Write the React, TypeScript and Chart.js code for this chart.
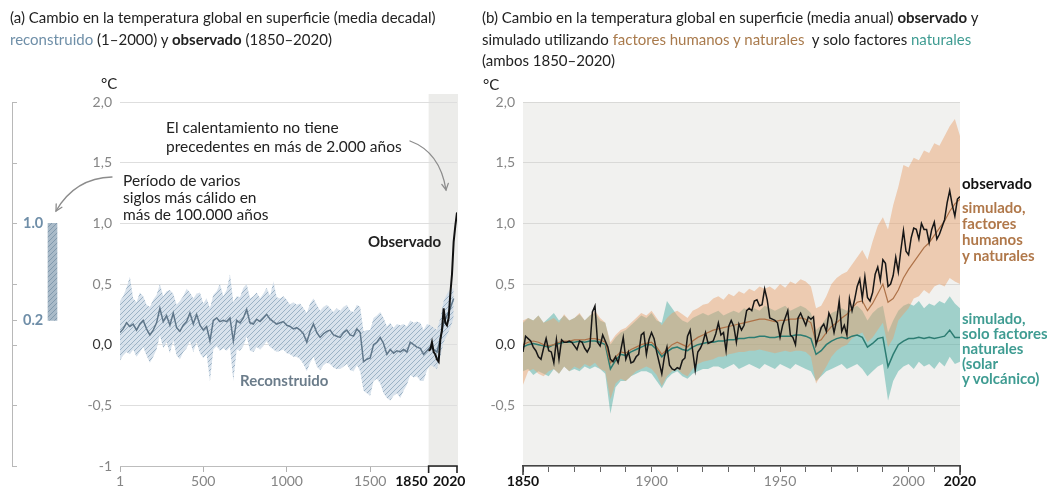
import React, { useEffect, useRef } from 'react';
import { Chart, registerables } from 'chart.js';

Chart.register(...registerables);

const FONT = 'Lato, "Open Sans", "DejaVu Sans", sans-serif';

// ---------- Panel (a): reconstructed (1-2000, 20-year steps) + observed decadal ----------
const RECON_START = 0;
const RECON_STEP = 20;
const RECON_MEDIAN = [
  0.10, 0.13, 0.18, 0.15, 0.17, 0.12, 0.17, 0.20, 0.13, 0.08,
  0.12, 0.18, 0.30, 0.19, 0.24, 0.16, 0.26, 0.14, 0.11, 0.16,
  0.19, 0.26, 0.17, 0.25, 0.16, 0.12, 0.15, 0.03, 0.20, 0.22,
  0.19, 0.20, 0.19, 0.22, 0.03, 0.20, 0.18, 0.22, 0.29, 0.18,
  0.17, 0.21, 0.19, 0.22, 0.25, 0.21, 0.19, 0.17, 0.18, 0.19,
  0.16, 0.15, 0.13, 0.14, 0.12, 0.09, 0.02, 0.11, 0.17, 0.10,
  0.06, 0.09, 0.11, 0.12, 0.08, 0.07, 0.06, 0.10, 0.12, 0.08,
  0.07, 0.13, 0.10, -0.14, -0.12, -0.11, 0.00, 0.02, 0.06, 0.01,
  -0.08, -0.04, -0.07, -0.05, -0.06, -0.04, -0.06, 0.02, 0.00, -0.02,
  -0.03, -0.08, -0.05, -0.02, -0.04, -0.06, 0.05, 0.18, 0.24, 0.30,
  0.38,
];
const RECON_HIGH = [
  0.36, 0.40, 0.47, 0.56, 0.38, 0.35, 0.43, 0.40, 0.33, 0.31,
  0.37, 0.41, 0.50, 0.40, 0.44, 0.45, 0.42, 0.33, 0.36, 0.40,
  0.46, 0.43, 0.38, 0.42, 0.43, 0.34, 0.38, 0.30, 0.41, 0.44,
  0.50, 0.40, 0.45, 0.58, 0.35, 0.40, 0.39, 0.47, 0.50, 0.38,
  0.40, 0.43, 0.38, 0.42, 0.47, 0.40, 0.52, 0.39, 0.38, 0.40,
  0.37, 0.33, 0.35, 0.33, 0.34, 0.30, 0.26, 0.34, 0.38, 0.33,
  0.28, 0.31, 0.33, 0.30, 0.27, 0.30, 0.28, 0.31, 0.33, 0.28,
  0.27, 0.33, 0.31, 0.11, 0.12, 0.12, 0.22, 0.24, 0.27, 0.22,
  0.15, 0.18, 0.14, 0.17, 0.16, 0.17, 0.15, 0.20, 0.18, 0.19,
  0.18, 0.12, 0.17, 0.16, 0.14, 0.12, 0.22, 0.36, 0.42, 0.45,
  0.47,
];
const RECON_LOW = [
  -0.13, -0.09, -0.06, -0.08, -0.04, -0.10, -0.06, -0.02, -0.09, -0.15,
  -0.10, -0.04, 0.08, -0.03, 0.02, -0.07, 0.04, -0.09, -0.12, -0.06,
  -0.03, 0.03, -0.06, 0.02, -0.07, -0.11, -0.08, -0.30, -0.04, -0.01,
  -0.05, -0.03, -0.05, -0.02, -0.30, -0.04, -0.05, -0.01, 0.07, -0.05,
  -0.06, -0.02, -0.04, -0.01, 0.03, -0.02, -0.04, -0.06, -0.05, -0.04,
  -0.07, -0.08, -0.10, -0.10, -0.12, -0.16, -0.22, -0.15, -0.10, -0.18,
  -0.21, -0.17, -0.15, -0.16, -0.19, -0.20, -0.20, -0.18, -0.16, -0.21,
  -0.22, -0.17, -0.22, -0.38, -0.40, -0.42, -0.30, -0.28, -0.32, -0.40,
  -0.44, -0.46, -0.42, -0.40, -0.44, -0.38, -0.33, -0.25, -0.27, -0.26,
  -0.30, -0.30, -0.21, -0.17, -0.18, -0.20, -0.10, 0.02, 0.08, 0.14,
  0.22,
];
const OBS_DECADAL_YEARS = [1850, 1860, 1870, 1880, 1890, 1900, 1910, 1920, 1930, 1940, 1950, 1960, 1970, 1980, 1990, 2000, 2010, 2020];
const OBS_DECADAL = [-0.05, -0.04, 0.02, -0.06, -0.08, -0.12, -0.14, 0.04, 0.12, 0.30, 0.18, 0.16, 0.22, 0.42, 0.58, 0.85, 0.98, 1.09];
const WARM_PERIOD = [0.2, 1.0];

// ---------- Panel (b): annual observed + simulated (2-year steps) ----------
const OBS_START = 1850;
const OBS_ANNUAL = [
  -0.06, 0.07, 0.05, 0.03, -0.02, -0.05, -0.10, -0.12, -0.03, 0.05,
  -0.05, -0.06, -0.15, 0.04, -0.12, 0.04, 0.02, 0.02, 0.03, 0.02,
  -0.01, -0.04, 0.03, 0.02, -0.03, -0.06, -0.02, 0.27, 0.32, 0.02,
  -0.01, 0.08, 0.03, -0.02, -0.12, -0.14, -0.10, -0.15, -0.05, 0.06,
  -0.12, -0.06, -0.15, -0.14, -0.10, -0.08, 0.08, 0.10, -0.08, 0.04,
  0.10, 0.05, -0.06, -0.15, -0.24, -0.10, -0.02, -0.17, -0.20, -0.21,
  -0.19, -0.20, -0.13, -0.11, 0.07, 0.12, -0.05, -0.21, -0.06, -0.03,
  0.02, 0.10, 0.01, 0.02, 0.03, 0.09, 0.18, 0.08, 0.10, -0.05,
  0.15, 0.20, 0.15, 0.02, 0.17, 0.12, 0.16, 0.28, 0.30, 0.28,
  0.36, 0.37, 0.32, 0.33, 0.46, 0.37, 0.22, 0.21, 0.20, 0.18,
  0.06, 0.16, 0.22, 0.28, 0.08, 0.06, 0.00, 0.22, 0.26, 0.21,
  0.16, 0.23, 0.21, 0.23, 0.00, 0.07, 0.14, 0.17, 0.11, 0.26,
  0.21, 0.10, 0.20, 0.36, 0.11, 0.16, 0.08, 0.38, 0.28, 0.37,
  0.48, 0.54, 0.38, 0.56, 0.39, 0.36, 0.43, 0.58, 0.64, 0.53,
  0.70, 0.67, 0.48, 0.50, 0.57, 0.72, 0.60, 0.78, 0.94, 0.77,
  0.74, 0.88, 0.96, 0.95, 0.87, 1.00, 0.95, 0.95, 0.84, 0.95,
  1.01, 0.87, 0.91, 0.97, 1.03, 1.17, 1.27, 1.15, 1.06, 1.20,
  1.22,
];
const SIM_START = 1850;
const SIM_STEP = 2;
const SIM_HN_MEAN = [
  0.00, 0.02, 0.03, 0.02, 0.00, -0.01, 0.00, 0.02, 0.03, 0.03,
  0.04, 0.04, 0.04, 0.05, 0.05, 0.04, 0.02, -0.15, -0.10, -0.06,
  -0.07, -0.04, -0.02, 0.00, 0.01, 0.02, -0.02, -0.08, -0.04, 0.00,
  0.02, 0.00, -0.02, 0.03, 0.06, 0.08, 0.10, 0.12, 0.13, 0.14,
  0.15, 0.16, 0.17, 0.18, 0.19, 0.20, 0.21, 0.21, 0.20, 0.19,
  0.20, 0.20, 0.21, 0.21, 0.22, 0.21, 0.18, 0.02, 0.04, 0.10,
  0.15, 0.18, 0.22, 0.25, 0.30, 0.35, 0.36, 0.28, 0.34, 0.42,
  0.50, 0.35, 0.38, 0.45, 0.55, 0.62, 0.68, 0.74, 0.80, 0.84,
  0.90, 0.96, 1.02, 1.10, 1.16, 1.20,
];
const SIM_HN_HIGH = [
  0.20, 0.22, 0.20, 0.24, 0.18, 0.20, 0.22, 0.18, 0.25, 0.20,
  0.22, 0.26, 0.20, 0.24, 0.28, 0.22, 0.18, 0.02, 0.08, 0.12,
  0.14, 0.18, 0.22, 0.26, 0.24, 0.28, 0.22, 0.16, 0.22, 0.26,
  0.28, 0.25, 0.22, 0.28, 0.30, 0.33, 0.34, 0.38, 0.40, 0.37,
  0.42, 0.40, 0.44, 0.42, 0.46, 0.44, 0.48, 0.46, 0.48, 0.45,
  0.50, 0.47, 0.52, 0.50, 0.54, 0.52, 0.48, 0.30, 0.32, 0.40,
  0.50, 0.55, 0.58, 0.60, 0.66, 0.72, 0.78, 0.70, 0.85, 0.98,
  1.05, 0.95, 1.15, 1.30, 1.48, 1.46, 1.54, 1.52, 1.60, 1.58,
  1.66, 1.64, 1.72, 1.80, 1.86, 1.72,
];
const SIM_HN_LOW = [
  -0.33, -0.22, -0.20, -0.24, -0.26, -0.22, -0.20, -0.24, -0.18, -0.22,
  -0.18, -0.20, -0.16, -0.18, -0.15, -0.20, -0.22, -0.45, -0.32, -0.28,
  -0.30, -0.26, -0.22, -0.20, -0.18, -0.20, -0.25, -0.34, -0.26, -0.22,
  -0.20, -0.24, -0.26, -0.20, -0.16, -0.14, -0.13, -0.12, -0.10, -0.10,
  -0.08, -0.07, -0.06, -0.06, -0.05, -0.05, -0.04, -0.05, -0.06, -0.07,
  -0.06, -0.05, -0.06, -0.05, -0.05, -0.06, -0.10, -0.32, -0.25, -0.18,
  -0.10, -0.05, -0.02, 0.00, 0.05, 0.08, 0.10, 0.02, 0.06, 0.12,
  0.18, -0.02, 0.05, 0.20, 0.25, 0.30, 0.38, 0.40, 0.45, 0.42,
  0.48, 0.50, 0.48, 0.55, 0.52, 0.50,
];
const SIM_NAT_MEAN = [
  -0.02, 0.00, 0.01, 0.00, -0.01, -0.02, 0.00, 0.01, 0.02, 0.02,
  0.02, 0.03, 0.02, 0.03, 0.03, 0.02, 0.00, -0.20, -0.13, -0.08,
  -0.09, -0.06, -0.04, -0.02, 0.00, 0.00, -0.04, -0.10, -0.06, -0.03,
  -0.02, -0.04, -0.05, -0.02, 0.00, 0.01, 0.02, 0.02, 0.03, 0.03,
  0.04, 0.04, 0.05, 0.05, 0.06, 0.06, 0.07, 0.07, 0.06, 0.06,
  0.07, 0.07, 0.07, 0.08, 0.08, 0.07, 0.05, -0.08, -0.05, 0.00,
  0.03, 0.05, 0.06, 0.05, 0.07, 0.08, 0.06, -0.02, 0.01, 0.05,
  0.06, -0.18, -0.08, 0.00, 0.03, 0.05, 0.05, 0.06, 0.05, 0.06,
  0.05, 0.06, 0.07, 0.12, 0.06, 0.06,
];
const SIM_NAT_HIGH = [
  0.18, 0.22, 0.20, 0.24, 0.18, 0.22, 0.26, 0.20, 0.24, 0.20,
  0.22, 0.25, 0.20, 0.24, 0.26, 0.20, 0.18, 0.00, 0.06, 0.10,
  0.12, 0.16, 0.20, 0.24, 0.22, 0.26, 0.20, 0.18, 0.36, 0.30,
  0.24, 0.20, 0.18, 0.22, 0.24, 0.26, 0.24, 0.26, 0.28, 0.24,
  0.26, 0.28, 0.26, 0.30, 0.28, 0.30, 0.28, 0.32, 0.30, 0.28,
  0.30, 0.32, 0.28, 0.30, 0.32, 0.30, 0.26, 0.12, 0.16, 0.22,
  0.26, 0.28, 0.30, 0.28, 0.30, 0.32, 0.28, 0.20, 0.26, 0.30,
  0.32, 0.10, 0.20, 0.28, 0.32, 0.34, 0.32, 0.36, 0.30, 0.34,
  0.32, 0.36, 0.34, 0.40, 0.34, 0.30,
];
const SIM_NAT_LOW = [
  -0.22, -0.20, -0.25, -0.22, -0.24, -0.26, -0.20, -0.24, -0.18, -0.22,
  -0.20, -0.22, -0.18, -0.20, -0.18, -0.20, -0.24, -0.57, -0.35, -0.30,
  -0.30, -0.26, -0.24, -0.22, -0.22, -0.24, -0.30, -0.36, -0.28, -0.24,
  -0.22, -0.26, -0.28, -0.24, -0.22, -0.20, -0.20, -0.18, -0.18, -0.20,
  -0.18, -0.16, -0.20, -0.18, -0.16, -0.18, -0.20, -0.16, -0.18, -0.20,
  -0.16, -0.18, -0.20, -0.16, -0.18, -0.20, -0.22, -0.30, -0.26, -0.22,
  -0.20, -0.18, -0.16, -0.20, -0.18, -0.16, -0.20, -0.26, -0.22, -0.18,
  -0.16, -0.46, -0.30, -0.22, -0.18, -0.16, -0.20, -0.14, -0.18, -0.16,
  -0.20, -0.14, -0.18, -0.10, -0.16, -0.14,
];

// ---------- Ticks ----------
const Y_TICKS = [-1, -0.5, 0, 0.5, 1, 1.5, 2];
const MINI_TICKS = [-1, -0.5, 0, 0.2, 0.5, 1, 1.5, 2];
const MINI_LABELED = [1, 0.2];
const A_X_TICKS = [1, 500, 1000, 1500, 1850, 2020];
const A_X_BOLD = [1850, 2020];
const B_X_TICKS = [1850, 1860, 1870, 1880, 1890, 1900, 1910, 1920, 1930, 1940, 1950, 1960, 1970, 1980, 1990, 2000, 2010, 2020];
const B_X_LABELED = [1850, 1900, 1950, 2000, 2020];
const B_X_BOLD = [1850, 2020];

const fmtY = (v: number) => (v === -1 ? '-1' : v.toFixed(1).replace('.', ','));

const pts = (start: number, step: number, arr: number[], minX?: number) =>
  arr.map((y, i) => ({ x: minX !== undefined ? Math.max(minX, start + i * step) : start + i * step, y }));

function makeHatch(bg: string, line: string, size = 6) {
  const c = document.createElement('canvas');
  c.width = size;
  c.height = size;
  const g = c.getContext('2d')!;
  g.fillStyle = bg;
  g.fillRect(0, 0, size, size);
  g.strokeStyle = line;
  g.lineWidth = 1;
  g.beginPath();
  g.moveTo(0, size);
  g.lineTo(size, 0);
  g.moveTo(-1, 1);
  g.lineTo(1, -1);
  g.moveTo(size - 1, size + 1);
  g.lineTo(size + 1, size - 1);
  g.stroke();
  return g.createPattern(c, 'repeat')!;
}

const H = 493;

function ChartCanvas({ left, width, make }: { left: number; width: number; make: () => any }) {
  const ref = useRef<HTMLCanvasElement | null>(null);
  useEffect(() => {
    if (!ref.current) return;
    const chart = new Chart(ref.current, make());
    return () => chart.destroy();
  }, []);
  return (
    <canvas
      ref={ref}
      width={width}
      height={H}
      style={{ position: 'absolute', left, top: 0, width, height: H }}
    />
  );
}

const yScaleBase = (width: number, showMinusOne: boolean, gridColor: string) => ({
  type: 'linear',
  min: -1,
  max: 2,
  afterBuildTicks: (s: any) => {
    s.ticks = Y_TICKS.map((v) => ({ value: v }));
  },
  afterFit: (s: any) => {
    s.width = width;
  },
  grid: { color: gridColor, lineWidth: 1, drawTicks: false },
  border: { display: false },
  ticks: {
    padding: 8,
    callback: (v: number) => (v === -1 && !showMinusOne ? '' : fmtY(v)),
    color: (ctx: any) => (ctx.tick && ctx.tick.value === 0 ? '#333' : '#858585'),
    font: { family: FONT, size: 14 },
  },
});

function makeA() {
  const hatch = makeHatch('rgba(206,219,231,0.8)', 'rgba(140,166,188,0.8)', 5);
  const bg = {
    id: 'bgA',
    beforeDraw(chart: any) {
      const { ctx, chartArea, scales } = chart;
      const x0 = scales.x.getPixelForValue(1850);
      const x1 = scales.x.getPixelForValue(2020);
      ctx.save();
      ctx.fillStyle = '#ececea';
      ctx.fillRect(x0, chartArea.top - 8, x1 - x0 + 1, chartArea.bottom - chartArea.top + 8);
      ctx.restore();
    },
    afterDraw(chart: any) {
      const { ctx, chartArea, scales } = chart;
      const x0 = scales.x.getPixelForValue(1850);
      const x1 = scales.x.getPixelForValue(2020);
      const y = chartArea.bottom;
      ctx.save();
      ctx.strokeStyle = '#222';
      ctx.lineWidth = 1.6;
      ctx.beginPath();
      ctx.moveTo(x0, y + 7);
      ctx.lineTo(x0, y);
      ctx.lineTo(x1, y);
      ctx.lineTo(x1, y + 7);
      ctx.stroke();
      ctx.fillStyle = '#111';
      ctx.font = `bold 14px ${FONT}`;
      ctx.textBaseline = 'middle';
      ctx.textAlign = 'right';
      ctx.fillText('1850', x0 - 1, y + 15);
      ctx.textAlign = 'left';
      ctx.fillText('2020', x1 - 24, y + 15);
      ctx.restore();
    },
  };
  return {
    type: 'line',
    data: {
      datasets: [
        {
          data: OBS_DECADAL_YEARS.map((x, i) => ({ x, y: OBS_DECADAL[i] })),
          borderColor: '#111',
          borderWidth: 2,
          pointRadius: 0,
          fill: false,
        },
        {
          data: pts(RECON_START, RECON_STEP, RECON_MEDIAN, 1),
          borderColor: '#60778a',
          borderWidth: 1.5,
          pointRadius: 0,
          fill: false,
        },
        {
          data: pts(RECON_START, RECON_STEP, RECON_LOW, 1),
          borderWidth: 0,
          borderColor: 'rgba(0,0,0,0)',
          pointRadius: 0,
          fill: false,
        },
        {
          data: pts(RECON_START, RECON_STEP, RECON_HIGH, 1),
          borderWidth: 0,
          borderColor: 'rgba(0,0,0,0)',
          pointRadius: 0,
          backgroundColor: hatch,
          fill: 2,
        },
      ],
    },
    options: {
      animation: false,
      responsive: false,
      devicePixelRatio: 1,
      layout: { padding: { left: 0, right: 13, top: 102, bottom: 0 }, autoPadding: false },
      plugins: { legend: { display: false }, tooltip: { enabled: false } },
      elements: { line: { tension: 0 } },
      scales: {
        x: {
          type: 'linear',
          min: 1,
          max: 2020,
          afterBuildTicks: (s: any) => {
            s.ticks = A_X_TICKS.map((v) => ({ value: v }));
          },
          afterFit: (s: any) => {
            s.height = 27;
          },
          grid: {
            drawOnChartArea: false,
            drawTicks: true,
            tickLength: 6,
            tickColor: (ctx: any) => (ctx.tick && A_X_BOLD.includes(ctx.tick.value) ? 'rgba(0,0,0,0)' : '#b0b0b0'),
          },
          border: { color: '#bdbdbd', width: 1 },
          ticks: {
            autoSkip: false,
            maxRotation: 0,
            padding: 1,
            callback: (v: number) => (A_X_BOLD.includes(v) ? '' : String(v)),
            color: '#858585',
            font: { family: FONT, size: 14 },
          },
        },
        y: yScaleBase(50, true, '#dedede'),
      },
    },
    plugins: [bg],
  };
}

function makeMini() {
  const hatch = makeHatch('#a9bac8', '#8199ad', 5);
  const tickMarks = {
    id: 'miniTicks',
    afterDraw(chart: any) {
      const s = chart.scales.y;
      const ctx = chart.ctx;
      ctx.save();
      ctx.strokeStyle = '#b8b8b8';
      ctx.lineWidth = 1;
      s.ticks.forEach((t: any) => {
        const y = Math.round(s.getPixelForValue(t.value)) + 0.5;
        ctx.beginPath();
        ctx.moveTo(s.right, y);
        ctx.lineTo(s.right + 5, y);
        ctx.stroke();
      });
      ctx.restore();
    },
  };
  return {
    type: 'bar',
    data: {
      labels: [''],
      datasets: [{ data: [WARM_PERIOD], backgroundColor: hatch, borderWidth: 0, barThickness: 9 }],
    },
    options: {
      animation: false,
      responsive: false,
      devicePixelRatio: 1,
      layout: { padding: { left: 0, right: 0, top: 102, bottom: 27 }, autoPadding: false },
      plugins: { legend: { display: false }, tooltip: { enabled: false } },
      scales: {
        x: { display: false },
        y: {
          type: 'linear',
          min: -1,
          max: 2,
          afterBuildTicks: (s: any) => {
            s.ticks = MINI_TICKS.map((v) => ({ value: v }));
          },
          afterFit: (s: any) => {
            s.width = 12;
          },
          grid: { drawOnChartArea: false, drawTicks: false },
          border: { display: true, color: '#b8b8b8', width: 1 },
          ticks: {
            mirror: true,
            padding: 11,
            callback: (v: number) => (MINI_LABELED.includes(v) ? v.toFixed(1) : ''),
            color: '#6f8ea8',
            font: { family: FONT, size: 14.5, weight: 'bold' },
          },
        },
      },
    },
    plugins: [tickMarks],
  };
}

function makeB() {
  const bg = {
    id: 'bgB',
    beforeDraw(chart: any) {
      const { ctx, chartArea } = chart;
      ctx.save();
      ctx.fillStyle = '#f1f1ef';
      ctx.fillRect(chartArea.left, chartArea.top, chartArea.right - chartArea.left, chartArea.bottom - chartArea.top);
      ctx.restore();
    },
    afterDraw(chart: any) {
      const { ctx, chartArea, scales } = chart;
      ctx.save();
      ctx.strokeStyle = '#333';
      ctx.lineWidth = 1.5;
      B_X_BOLD.forEach((v) => {
        const x = Math.round(scales.x.getPixelForValue(v));
        ctx.beginPath();
        ctx.moveTo(x, chartArea.bottom);
        ctx.lineTo(x, chartArea.bottom + 9);
        ctx.stroke();
      });
      ctx.restore();
    },
  };
  const line = (data: any[], color: string, width: number) => ({
    data,
    borderColor: color,
    borderWidth: width,
    pointRadius: 0,
    fill: false,
  });
  const edge = (data: any[]) => ({
    data,
    borderColor: 'rgba(0,0,0,0)',
    borderWidth: 0,
    pointRadius: 0,
    fill: false,
  });
  return {
    type: 'line',
    data: {
      datasets: [
        line(pts(OBS_START, 1, OBS_ANNUAL), '#161616', 1.5),
        line(pts(SIM_START, SIM_STEP, SIM_HN_MEAN), '#ae7248', 1.2),
        line(pts(SIM_START, SIM_STEP, SIM_NAT_MEAN), '#2c7c72', 1.5),
        edge(pts(SIM_START, SIM_STEP, SIM_HN_LOW)),
        { ...edge(pts(SIM_START, SIM_STEP, SIM_HN_HIGH)), fill: 3, backgroundColor: 'rgba(232,160,108,0.48)' },
        edge(pts(SIM_START, SIM_STEP, SIM_NAT_LOW)),
        { ...edge(pts(SIM_START, SIM_STEP, SIM_NAT_HIGH)), fill: 5, backgroundColor: 'rgba(62,168,158,0.45)' },
      ],
    },
    options: {
      animation: false,
      responsive: false,
      devicePixelRatio: 1,
      layout: { padding: { left: 0, right: 87, top: 102, bottom: 0 }, autoPadding: false },
      plugins: { legend: { display: false }, tooltip: { enabled: false } },
      elements: { line: { tension: 0 } },
      scales: {
        x: {
          type: 'linear',
          min: 1850,
          max: 2020,
          afterBuildTicks: (s: any) => {
            s.ticks = B_X_TICKS.map((v) => ({ value: v }));
          },
          afterFit: (s: any) => {
            s.height = 27;
          },
          grid: { drawOnChartArea: false, drawTicks: true, tickLength: 6, tickColor: '#666' },
          border: { color: '#444', width: 1.5 },
          ticks: {
            autoSkip: false,
            maxRotation: 0,
            padding: 1,
            callback: (v: number) => (B_X_LABELED.includes(v) ? String(v) : ''),
            color: (ctx: any) => (ctx.tick && B_X_BOLD.includes(ctx.tick.value) ? '#111' : '#858585'),
            font: (ctx: any) => ({
              family: FONT,
              size: 14,
              weight: ctx.tick && B_X_BOLD.includes(ctx.tick.value) ? 'bold' : 'normal',
            }),
          },
        },
        y: yScaleBase(53, false, '#d9d9d7'),
      },
    },
    plugins: [bg],
  };
}

type Line = { top: number; left: number; parts: { t: string; c?: string; b?: boolean }[]; size?: number };

const TEXT_LINES: Line[] = [
  { top: 7, left: 10, parts: [{ t: '(a) Cambio en la temperatura global en superficie (media decadal)' }] },
  {
    top: 29,
    left: 10,
    parts: [{ t: 'reconstruido', c: '#6f8fa8' }, { t: ' (1–2000) y ' }, { t: 'observado', b: true }, { t: ' (1850–2020)' }],
  },
  { top: 73, left: 101, parts: [{ t: '°C' }] },
  {
    top: 7,
    left: 482,
    parts: [{ t: '(b) Cambio en la temperatura global en superficie (media anual) ' }, { t: 'observado', b: true }, { t: ' y' }],
  },
  {
    top: 29,
    left: 482,
    parts: [
      { t: 'simulado utilizando ' },
      { t: 'factores humanos y naturales', c: '#a97a4c' },
      { t: '  y solo factores ' },
      { t: 'naturales', c: '#3f9c92' },
    ],
  },
  { top: 50, left: 482, parts: [{ t: '(ambos 1850–2020)' }] },
  { top: 74, left: 483, parts: [{ t: '°C' }] },
  // annotations panel (a)
  { top: 117, left: 166, size: 15.5, parts: [{ t: 'El calentamiento no tiene' }] },
  { top: 136, left: 166, size: 15.5, parts: [{ t: 'precedentes en más de 2.000 años' }] },
  { top: 170, left: 123, size: 15.5, parts: [{ t: 'Período de varios' }] },
  { top: 187, left: 123, size: 15.5, parts: [{ t: 'siglos más cálido en' }] },
  { top: 204, left: 123, size: 15.5, parts: [{ t: 'más de 100.000 años' }] },
  { top: 231, left: 368, size: 15, parts: [{ t: 'Observado', b: true }] },
  { top: 370, left: 240, size: 15, parts: [{ t: 'Reconstruido', b: true, c: '#6b7c8a' }] },
  // labels panel (b)
  { top: 173, left: 962, size: 15, parts: [{ t: 'observado', b: true, c: '#111' }] },
  { top: 197, left: 962, size: 15, parts: [{ t: 'simulado,', b: true, c: '#b0784a' }] },
  { top: 213, left: 962, size: 15, parts: [{ t: 'factores', b: true, c: '#b0784a' }] },
  { top: 229, left: 962, size: 15, parts: [{ t: 'humanos', b: true, c: '#b0784a' }] },
  { top: 245, left: 962, size: 15, parts: [{ t: 'y naturales', b: true, c: '#b0784a' }] },
  { top: 308, left: 962, size: 15, parts: [{ t: 'simulado,', b: true, c: '#3f9c92' }] },
  { top: 323, left: 962, size: 15, parts: [{ t: 'solo factores', b: true, c: '#3f9c92' }] },
  { top: 338, left: 962, size: 15, parts: [{ t: 'naturales', b: true, c: '#3f9c92' }] },
  { top: 353, left: 962, size: 15, parts: [{ t: '(solar', b: true, c: '#3f9c92' }] },
  { top: 368, left: 962, size: 15, parts: [{ t: 'y volcánico)', b: true, c: '#3f9c92' }] },
];

export default function App() {
  return (
    <div
      style={{
        position: 'absolute',
        left: 0,
        top: 0,
        width: 1047,
        height: H,
        background: '#fff',
        overflow: 'hidden',
        fontFamily: FONT,
      }}
    >
      <ChartCanvas left={70} width={400} make={makeA} />
      <ChartCanvas left={470} width={577} make={makeB} />
      <ChartCanvas left={0} width={93} make={makeMini} />
      {TEXT_LINES.map((l, i) => (
        <div
          key={i}
          style={{
            position: 'absolute',
            left: l.left,
            top: l.top,
            fontSize: l.size ?? 15,
            lineHeight: '20px',
            color: '#222',
            whiteSpace: 'pre',
          }}
        >
          {l.parts.map((p, j) => (
            <span key={j} style={{ color: p.c ?? undefined, fontWeight: p.b ? 700 : 400 }}>
              {p.t}
            </span>
          ))}
        </div>
      ))}
      <svg
        width={1047}
        height={H}
        style={{ position: 'absolute', left: 0, top: 0, pointerEvents: 'none' }}
      >
        <g fill="none" stroke="#8c8c8c" strokeWidth={1.3} strokeLinecap="round">
          <path d="M410,141 Q440,152 446,190" />
          <path d="M448.3,183.4 L446,190 L441.8,184.4" />
          <path d="M112,177 Q75,178 56,211" />
          <path d="M61.9,207.3 L56,211 L56.2,204" />
        </g>
      </svg>
    </div>
  );
}
